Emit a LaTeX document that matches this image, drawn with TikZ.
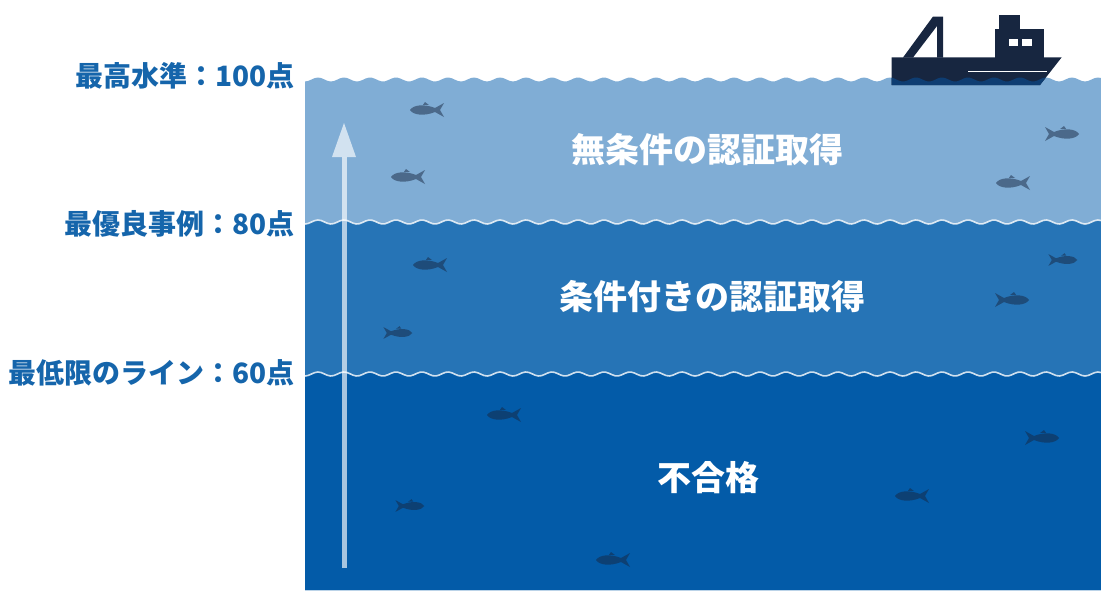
\documentclass[tikz,border=0pt]{standalone}
\usepackage{fontspec}
\setmainfont{Noto Sans CJK JP}
\usetikzlibrary{arrows.meta}

\definecolor{seatop}{HTML}{80ADD5}
\definecolor{seamid}{HTML}{2674B6}
\definecolor{seabot}{HTML}{035BA8}
\definecolor{navy}{HTML}{172640}
\definecolor{hullwet}{HTML}{0E3D72}
\definecolor{levelblue}{HTML}{1565AB}

\tikzset{
  levellabel/.style={anchor=east, text=levelblue, font=\bfseries\fontsize{28}{32}\selectfont, inner sep=0pt},
  zonelabel/.style={text=white, font=\bfseries\fontsize{34}{38}\selectfont, inner sep=0pt},
  waveline/.style={draw=white, draw opacity=.8, line width=1.6pt},
  fishfill/.style={fill=navy, fill opacity=.5},
  fish/.pic={
    \fill[fishfill] (-18,0) .. controls (-15,-5) and (-4,-6.5) .. (7,-2) -- (16,-7) -- (12,0) -- (16,7) -- (7,2) .. controls (-4,6.5) and (-15,5) .. cycle;
    \fill[fishfill] (-5,-5.2) -- (-3,-8) -- (1,-5) -- cycle;
  }
}

\begin{document}
\begin{tikzpicture}[x=1pt,y=-1pt]
\useasboundingbox (0,0) rectangle (1101,590);

% three water layers, top edge wavy
\fill[seatop] (305,590) -- plot[domain=305:1101,samples=250] (\x,{79.5+2*cos((\x-305)/26*360)}) -- (1101,590) -- cycle;
\fill[seamid] (305,590) -- plot[domain=305:1101,samples=250] (\x,{222+2*cos((\x-305)/26*360)}) -- (1101,590) -- cycle;
\fill[seabot] (305,590) -- plot[domain=305:1101,samples=250] (\x,{374+2*cos((\x-305)/26*360)}) -- (1101,590) -- cycle;
\draw[waveline] plot[domain=305:1101,samples=250] (\x,{222+2*cos((\x-305)/26*360)});
\draw[waveline] plot[domain=305:1101,samples=250] (\x,{374+2*cos((\x-305)/26*360)});

% fish
\pic at (428,110) {fish};
\pic at (409,177) {fish};
\pic[xscale=-1] at (1061,134) {fish};
\pic at (1014,183) {fish};
\pic at (431,265) {fish};
\pic[xscale=-.85,yscale=.85] at (1062,260) {fish};
\pic[xscale=-1] at (1011,300) {fish};
\pic[xscale=-.85,yscale=.85] at (397,333) {fish};
\pic at (505,415) {fish};
\pic[xscale=-1] at (1041,438) {fish};
\pic[xscale=-.85,yscale=.85] at (409,506) {fish};
\pic at (913,496) {fish};
\pic at (614,560) {fish};

% ship
\fill[navy, even odd rule] (903,57.5) -- (933,16.5) -- (943,16.5) -- (943,57.5) -- cycle
  (913,57.5) -- (937,26) -- (937,57.5) -- cycle;
\fill[navy] (999,14.5) rectangle (1020,30);
\fill[navy] (995,29.3) rectangle (1044,58);
\fill[white] (1009.3,39) rectangle (1017.7,46);
\fill[white] (1022,39) rectangle (1031.7,46);
\fill[navy] (891.7,57.3) -- (1061.7,57.3) -- (1040,85) -- (891.7,85) -- cycle;
\begin{scope}
  \clip (891.7,57.3) -- (1061.7,57.3) -- (1040,85) -- (891.7,85) -- cycle;
  \fill[hullwet] (880,90) -- plot[domain=880:1070,samples=80] (\x,{79.5+2*cos((\x-305)/26*360)}) -- (1070,90) -- cycle;
\end{scope}
\draw[white, line width=1.4pt] (968,71.7) -- (1046.7,71.7);

% arrow
\coordinate (arrowbase) at (344,568);
\coordinate (arrowtip) at (344,123);
\draw[white, draw opacity=.65, fill opacity=.65, line width=5pt, -{Triangle[length=34pt,width=24pt,line width=0pt]}] (arrowbase) -- (arrowtip);

% level labels
\node[levellabel] (top) at (295,76) {最高水準：100点};
\node[levellabel] (best) at (295,224) {最優良事例：80点};
\node[levellabel] (min) at (295,373) {最低限のライン：60点};

% zone labels
\node[zonelabel] (full) at (707,150) {無条件の認証取得};
\node[zonelabel] (cond) at (712,297) {条件付きの認証取得};
\node[zonelabel] (fail) at (708,478) {不合格};
\end{tikzpicture}
\end{document}
